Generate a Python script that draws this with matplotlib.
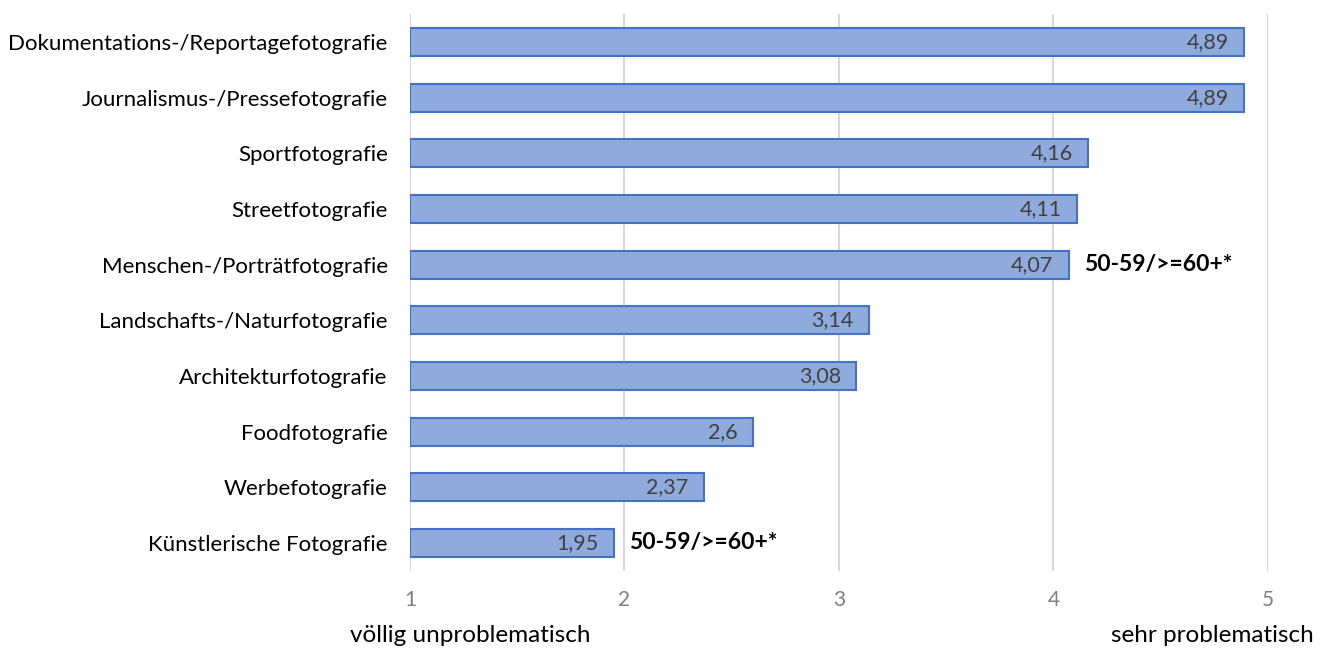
import matplotlib.pyplot as plt

categories = [
    "Dokumentations-/Reportagefotografie",
    "Journalismus-/Pressefotografie",
    "Sportfotografie",
    "Streetfotografie",
    "Menschen-/Porträtfotografie",
    "Landschafts-/Naturfotografie",
    "Architekturfotografie",
    "Foodfotografie",
    "Werbefotografie",
    "Künstlerische Fotografie",
]
values = [4.89, 4.89, 4.16, 4.11, 4.07, 3.14, 3.08, 2.6, 2.37, 1.95]
labels = ["4,89", "4,89", "4,16", "4,11", "4,07", "3,14", "3,08", "2,6", "2,37", "1,95"]
notes = {4: "50-59/>=60+*", 9: "50-59/>=60+*"}
xticks = [1, 2, 3, 4, 5]

plt.rcParams['font.family'] = ['Lato', 'DejaVu Sans']

fig = plt.figure(figsize=(13.29, 6.5), dpi=100)
ax = fig.add_axes([0.3085, 0.1218, 0.6456, 0.8564])

ypos = list(range(len(categories)))
ax.barh(ypos, [v - 1 for v in values], left=1, height=0.5,
        color='#8FAADC', edgecolor='#4472C4', linewidth=1.5, zorder=3)

for i, (v, lab) in enumerate(zip(values, labels)):
    ax.annotate(lab, (v, i), xytext=(-11, 0), textcoords='offset points',
                ha='right', va='center', fontsize=15.5, color='#404040', zorder=4)
    if i in notes:
        ax.annotate(notes[i], (v, i), xytext=(11, 0), textcoords='offset points',
                    ha='left', va='center', fontsize=16.5, fontweight='bold',
                    color='black', zorder=4)

ax.set_xlim(1, 5)
ax.set_ylim(len(categories) - 0.5, -0.5)
ax.set_xticks(xticks)
ax.set_xticklabels([str(t) for t in xticks], color='#808080', fontsize=15)
ax.set_yticks(ypos)
ax.set_yticklabels(categories, fontsize=16, color='black')
ax.tick_params(axis='both', length=0)
ax.tick_params(axis='x', pad=14)
ax.tick_params(axis='y', pad=16)
ax.grid(axis='x', color='#D9D9D9', linewidth=1.5, zorder=0)
for s in ax.spines.values():
    s.set_visible(False)

fig.text(470 / 1329, 1 - 636 / 650, "völlig unproblematisch", ha='center', va='center', fontsize=17.5)
fig.text(1212 / 1329, 1 - 636 / 650, "sehr problematisch", ha='center', va='center', fontsize=17.5)

fig.savefig('out.png', dpi=100)
